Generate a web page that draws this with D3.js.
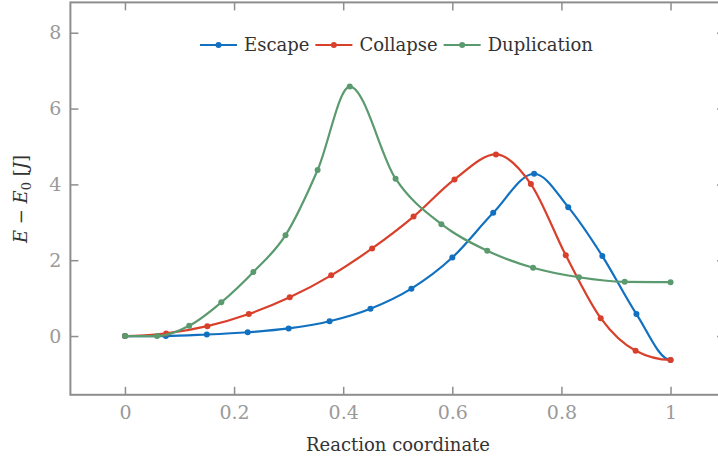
<!DOCTYPE html>
<html>
<head>
<meta charset="utf-8">
<script src="https://cdn.jsdelivr.net/npm/d3@7"></script>
<style>
  html, body { margin: 0; padding: 0; background: #fff; }
  svg { display: block; font-family: 'DejaVu Serif', serif; }
</style>
</head>
<body>
<div id="chart"></div>
<script>
// energy profiles along the reaction coordinate
const seriesNames  = ['Escape', 'Collapse', 'Duplication'];
const seriesColors = ['#1170bf', '#d8402c', '#5b9a6f'];

const escapeX = [0, 0.075, 0.15, 0.225, 0.3, 0.375, 0.45, 0.525, 0.6, 0.675, 0.75, 0.8125, 0.875, 0.9375, 1.0];
const escapeY = [0, 0.0, 0.04, 0.1, 0.2, 0.39, 0.72, 1.25, 2.07, 3.25, 4.28, 3.40, 2.11, 0.58, -0.63];

const collapseX = [0, 0.0756, 0.151, 0.227, 0.302, 0.378, 0.453, 0.529, 0.604, 0.68, 0.744, 0.808, 0.872, 0.936, 1.0];
const collapseY = [0, 0.07, 0.26, 0.58, 1.02, 1.60, 2.31, 3.15, 4.13, 4.79, 4.01, 2.13, 0.47, -0.39, -0.63];

const duplicationX = [0, 0.0589, 0.1177, 0.1766, 0.2354, 0.2943, 0.3531, 0.412, 0.496, 0.58, 0.664, 0.748, 0.832, 0.916, 1.0];
const duplicationY = [0, 0.0, 0.27, 0.89, 1.69, 2.66, 4.38, 6.58, 4.15, 2.95, 2.25, 1.80, 1.55, 1.43, 1.42];

const xTicks = [0, 0.2, 0.4, 0.6, 0.8, 1];
const yTicks = [0, 2, 4, 6, 8];

const W = 718, H = 457;
const frameCol = '#8e8e8e';
const tickTextCol = '#9a9a9a';

// curva Hermite monótona con pendiente nula en los extremos (mínimos del camino)
function curveFlatEnds(context) {
  let xs, ys;
  return {
    areaStart() {}, areaEnd() {},
    lineStart() { xs = []; ys = []; },
    point(px, py) { xs.push(+px); ys.push(+py); },
    lineEnd() {
      const n = xs.length;
      if (!n) return;
      context.moveTo(xs[0], ys[0]);
      if (n === 1) return;
      const h = [], s = [], t = new Array(n).fill(0);
      for (let i = 0; i < n - 1; i++) {
        h[i] = xs[i + 1] - xs[i];
        s[i] = (ys[i + 1] - ys[i]) / h[i];
      }
      for (let i = 1; i < n - 1; i++) {
        const s0 = s[i - 1], s1 = s[i];
        if (s0 * s1 <= 0) { t[i] = 0; continue; }
        const p = (s0 * h[i] + s1 * h[i - 1]) / (h[i - 1] + h[i]);
        t[i] = (Math.sign(s0) + Math.sign(s1)) * Math.min(Math.abs(s0), Math.abs(s1), 0.5 * Math.abs(p));
      }
      for (let i = 0; i < n - 1; i++) {
        const d = h[i] / 3;
        context.bezierCurveTo(xs[i] + d, ys[i] + t[i] * d,
                              xs[i + 1] - d, ys[i + 1] - t[i + 1] * d,
                              xs[i + 1], ys[i + 1]);
      }
    }
  };
}

const svg = d3.select('#chart').append('svg')
  .attr('width', W).attr('height', H);

// escalas (domain = frame)
const x = d3.scaleLinear().domain([-0.1, 1.1]).range([70.4, 725.1]);
const y = d3.scaleLinear().domain([-1.55, 8.8]).range([394.8, 2.4]);

// frame
svg.append('rect')
  .attr('x', x(-0.1)).attr('y', y(8.8))
  .attr('width', x(1.1) - x(-0.1)).attr('height', y(-1.55) - y(8.8))
  .attr('fill', 'none').attr('stroke', frameCol).attr('stroke-width', 2);

function styleAxis(g) {
  g.select('.domain').remove();
  g.selectAll('.tick line').attr('stroke', frameCol).attr('stroke-width', 1.5);
  g.selectAll('.tick text')
    .attr('fill', tickTextCol)
    .style('font-size', '19px')
    .style('font-family', "'DejaVu Serif', serif");
}

svg.append('g')
  .attr('transform', `translate(0,${y(-1.55)})`)
  .call(d3.axisBottom(x).tickValues(xTicks).tickSize(-8).tickPadding(11).tickFormat(d3.format('~g')))
  .call(styleAxis);

svg.append('g')
  .attr('transform', `translate(0,${y(8.8)})`)
  .call(d3.axisTop(x).tickValues(xTicks).tickSize(-8).tickFormat(''))
  .call(styleAxis);

svg.append('g')
  .attr('transform', `translate(${x(-0.1)},0)`)
  .call(d3.axisLeft(y).tickValues(yTicks).tickSize(-8).tickPadding(9))
  .call(styleAxis);

svg.append('g')
  .attr('transform', `translate(${x(1.1)},0)`)
  .call(d3.axisRight(y).tickValues(yTicks).tickSize(-8).tickFormat(''))
  .call(styleAxis);

// axis titles
svg.append('text')
  .attr('x', 398).attr('y', 451)
  .attr('text-anchor', 'middle')
  .attr('fill', '#333')
  .style('font-size', '18px')
  .text('Reaction coordinate');

const yl = svg.append('text')
  .attr('transform', 'translate(27,199) rotate(-90)')
  .attr('text-anchor', 'middle')
  .attr('fill', '#333')
  .style('font-size', '18px');
yl.append('tspan').style('font-style', 'italic').text('E');
yl.append('tspan').text(' − ');
yl.append('tspan').style('font-style', 'italic').text('E');
yl.append('tspan').attr('dy', 4).style('font-size', '13px').text('0');
yl.append('tspan').attr('dy', -4).text(' [');
yl.append('tspan').style('font-style', 'italic').text('J');
yl.append('tspan').text(']');

// curves
const series = [
  { xs: escapeX, ys: escapeY },
  { xs: collapseX, ys: collapseY },
  { xs: duplicationX, ys: duplicationY }
].map((s, i) => ({
  name: seriesNames[i],
  color: seriesColors[i],
  pts: s.xs.map((v, j) => ({ x: v, y: s.ys[j] }))
}));

const line = d3.line()
  .x(d => x(d.x))
  .y(d => y(d.y))
  .curve(curveFlatEnds);

series.forEach(s => {
  const g = svg.append('g');
  g.append('path')
    .attr('d', line(s.pts))
    .attr('fill', 'none')
    .attr('stroke', s.color)
    .attr('stroke-width', 2.2);
  g.selectAll('circle')
    .data(s.pts)
    .join('circle')
      .attr('cx', d => x(d.x))
      .attr('cy', d => y(d.y))
      .attr('r', 3)
      .attr('fill', s.color);
});

// legend
const legend = svg.append('g').attr('transform', 'translate(200,45)');
let lx = 0;
series.forEach(s => {
  legend.append('line')
    .attr('x1', lx).attr('x2', lx + 37)
    .attr('y1', 0).attr('y2', 0)
    .attr('stroke', s.color).attr('stroke-width', 2.2);
  legend.append('circle')
    .attr('cx', lx + 18.5).attr('cy', 0).attr('r', 3)
    .attr('fill', s.color);
  const t = legend.append('text')
    .attr('x', lx + 44).attr('y', 6)
    .attr('fill', '#333')
    .style('font-size', '18px')
    .text(s.name);
  lx += 44 + t.node().getComputedTextLength() + 6;
});
</script>
</body>
</html>
